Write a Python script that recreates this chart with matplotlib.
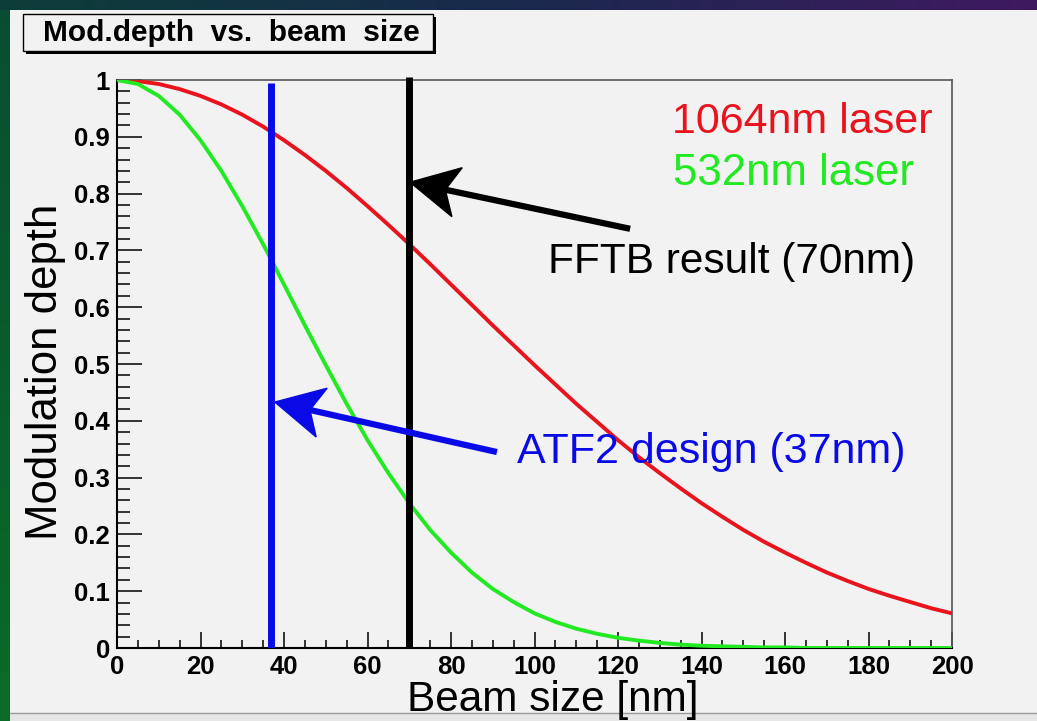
import numpy as np
import matplotlib
matplotlib.use('Agg')
import matplotlib.pyplot as plt
from matplotlib.patches import Rectangle, Polygon
from matplotlib.transforms import IdentityTransform

plt.rcParams['font.family'] = ['Liberation Sans', 'DejaVu Sans']

# data
beam_nm = np.arange(0, 201, 5)
depth_1064 = [1.000, 0.998, 0.993, 0.984, 0.972, 0.957, 0.939, 0.918, 0.894, 0.868,
              0.840, 0.810, 0.778, 0.745, 0.711, 0.676, 0.640, 0.604, 0.568, 0.533,
              0.498, 0.464, 0.430, 0.398, 0.366, 0.336, 0.308, 0.281, 0.255, 0.231,
              0.208, 0.187, 0.168, 0.150, 0.133, 0.118, 0.104, 0.092, 0.081, 0.070,
              0.061]
depth_532 = [1.000, 0.993, 0.972, 0.939, 0.894, 0.840, 0.778, 0.711, 0.640, 0.568,
             0.498, 0.430, 0.366, 0.308, 0.255, 0.208, 0.168, 0.133, 0.104, 0.081,
             0.061, 0.046, 0.034, 0.025, 0.018, 0.013, 0.009, 0.006, 0.004, 0.003,
             0.002, 0.001, 0.001, 0.000, 0.000, 0.000, 0.000, 0.000, 0.000, 0.000,
             0.000]
atf2_nm = 37
fftb_nm = 70
x_ticks = [0, 20, 40, 60, 80, 100, 120, 140, 160, 180, 200]
y_ticks = [0, 0.1, 0.2, 0.3, 0.4, 0.5, 0.6, 0.7, 0.8, 0.9, 1.0]
y_labels = ['0', '0.1', '0.2', '0.3', '0.4', '0.5', '0.6', '0.7', '0.8', '0.9', '1']

RED = '#e8131c'
GREEN = '#22ea22'
BLUE = '#0a0ae6'
CANVAS = '#f2f2f2'

W, H = 1037, 721
fig = plt.figure(figsize=(W / 100, H / 100), dpi=100)

# slide background (pixel coords)
bg = fig.add_axes([0, 0, 1, 1], zorder=-5)
bg.set_axis_off()
t = np.linspace(0, 1, 256)[:, None]
c_left, c_mid, c_right = np.array([0.05, 0.24, 0.22]), np.array([0.10, 0.16, 0.30]), np.array([0.25, 0.10, 0.38])
top = np.where(t < 0.5, c_left + (c_mid - c_left) * t * 2, c_mid + (c_right - c_mid) * (t - 0.5) * 2)
bg.imshow(top[None, :, :], extent=(0, W, 10, 0), aspect='auto')
g_top, g_bot = np.array([0.04, 0.30, 0.20]), np.array([0.04, 0.42, 0.15])
side = g_top + (g_bot - g_top) * t
bg.imshow(side[:, None, :], extent=(0, 10, H, 10), aspect='auto')
bg.add_patch(Rectangle((10, 10), W - 10, 703, color=CANVAS, lw=0))
bg.add_patch(Rectangle((10, 713), W - 10, 8, color='#e6e6e6', lw=0))
bg.plot([10, W], [713, 713], color='#9a9a9a', lw=1)
bg.set_xlim(0, W)
bg.set_ylim(H, 0)

# title box
bg.add_patch(Rectangle((26, 17), 410, 37, color='black', lw=0))
bg.add_patch(Rectangle((23, 14), 410, 37, fc=CANVAS, ec='black', lw=1))
bg.text(231, 33, 'Mod.depth  vs.  beam  size', ha='center', va='center',
        fontsize=21.5, fontweight='bold')

# main plot
ax = fig.add_axes([117 / W, 73 / H, 835 / W, 568 / H])
ax.set_facecolor(CANVAS)
ax.plot(beam_nm, depth_1064, color=RED, lw=2.8, zorder=3)
ax.plot(beam_nm, depth_532, color=GREEN, lw=2.8, zorder=3)
ax.plot([atf2_nm, atf2_nm], [0, 0.995], color=BLUE, lw=5, zorder=4, solid_capstyle='butt')
ax.plot([fftb_nm, fftb_nm], [0, 1.005], color='black', lw=5, zorder=4,
        solid_capstyle='butt', clip_on=False)

ax.set_xlim(0, 200)
ax.set_ylim(0, 1)
ax.set_xticks(x_ticks)
ax.set_xticks(range(0, 201, 5), minor=True)
ax.set_yticks(y_ticks)
ax.set_yticklabels(y_labels)
ax.set_yticks(np.arange(0, 1.001, 0.02), minor=True)
ax.tick_params(axis='both', which='both', direction='in', top=False, right=False,
               width=1.1, labelsize=18.5, pad=5)
ax.tick_params(axis='y', which='major', length=18)
ax.tick_params(axis='y', which='minor', length=9.5)
ax.tick_params(axis='x', which='major', length=11.5)
ax.tick_params(axis='x', which='minor', length=6)
for lab in ax.get_xticklabels() + ax.get_yticklabels():
    lab.set_fontweight('bold')
for s in ['left', 'bottom']:
    ax.spines[s].set_color('black')
    ax.spines[s].set_linewidth(1.5)
for s in ['top', 'right']:
    ax.spines[s].set_color('#555555')
    ax.spines[s].set_linewidth(1.2)

fig.text(553 / W, 1 - 711 / H, 'Beam size [nm]', ha='center', va='baseline', fontsize=30.5)
fig.text(46 / W, 1 - 372 / H, 'Modulation depth', ha='center', va='center',
         rotation=90, fontsize=31.5)

# annotations
ax.text(132.9, 0.907, '1064nm laser', color=RED, fontsize=31)
ax.text(133.2, 0.815, '532nm laser', color=GREEN, fontsize=31.5)
ax.text(103.2, 0.660, 'FFTB result (70nm)', color='black', fontsize=30.5)
ax.text(95.8, 0.326, 'ATF2 design (37nm)', color=BLUE, fontsize=31)


def stealth_arrow(tip, tail, color, hl=48, hw=25, notch=36, lw=4.5):
    # ROOT-style arrow with concave head, built in pixel space
    p1 = ax.transData.transform(tip)
    p0 = ax.transData.transform(tail)
    u = (p1 - p0) / np.hypot(*(p1 - p0))
    n = np.array([-u[1], u[0]])
    back = p1 - u * hl
    nb = p1 - u * notch
    ax.plot([p0[0], nb[0]], [p0[1], nb[1]], color=color, lw=lw, transform=IdentityTransform(),
            solid_capstyle='butt', zorder=5)
    head = Polygon([p1, back + n * hw, nb, back - n * hw], closed=True, fc=color, ec=color,
                   lw=1, transform=IdentityTransform(), zorder=5)
    ax.add_patch(head)


stealth_arrow((70.2, 0.820), (122.9, 0.738), 'black')
stealth_arrow((37.8, 0.433), (91.0, 0.345), BLUE)

fig.savefig('out.png', dpi=100)
